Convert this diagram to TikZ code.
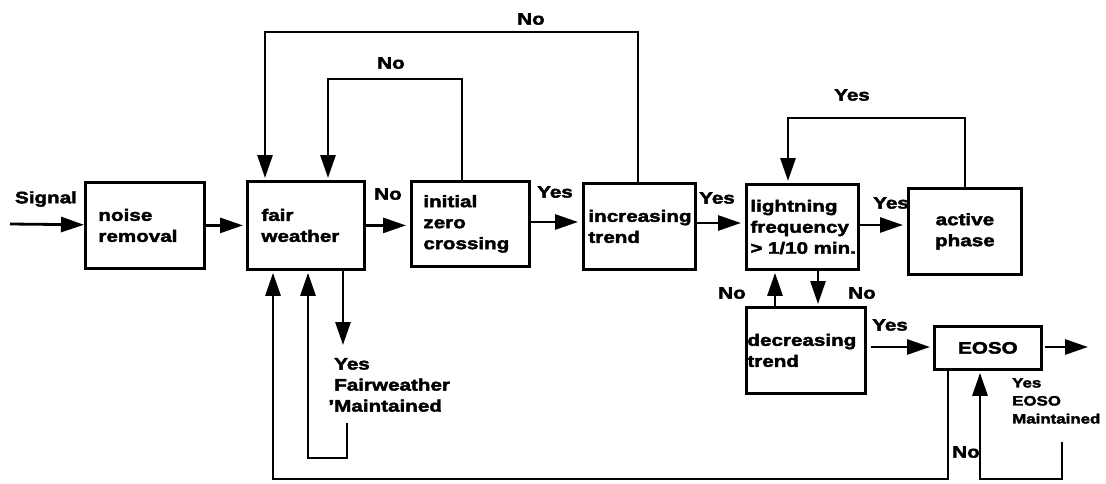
\documentclass[tikz,border=0pt]{standalone}
\usepackage{fontspec}
\setmainfont[FakeStretch=1.25,BoldFeatures={FakeBold=2.5}]{Liberation Sans}
\usetikzlibrary{arrows.meta}
\tikzset{
  every node/.style={font=\bfseries\fontsize{16.5}{21}\selectfont},
  blk/.style={draw, line width=2.8pt, anchor=north west, align=left, inner ysep=0pt},
  conn/.style={line width=2.8pt},
  arr/.style={conn, -{Triangle[length=23pt,width=15pt]}},
  lab/.style={inner sep=0pt},
  small/.style={font=\bfseries\fontsize{13.5}{18}\selectfont}
}
\begin{document}
\begin{tikzpicture}[x=1pt,y=-1pt]
\useasboundingbox (0,0) rectangle (1106,483);
% boxes
\node[blk, minimum width=119, minimum height=86, inner xsep=13, text width=93] (noise) at (84,181) {noise\\removal};
\node[blk, minimum width=117, minimum height=88, inner xsep=14, text width=89] (fair) at (246,180) {fair\\weather};
\node[blk, minimum width=118, minimum height=85, inner xsep=12, text width=94] (init) at (410,180) {initial\\zero\\crossing};
\node[blk, minimum width=112, minimum height=86, inner xsep=5, text width=102] (incr) at (582,182) {increasing\\trend};
\node[blk, minimum width=112, minimum height=85, inner xsep=4, text width=104] (light) at (745,183) {lightning\\frequency\\>~1/10~min.};
\node[blk, minimum width=113, minimum height=86, align=center, inner xsep=5, text width=103] (active) at (907,187) {active\\phase};
\node[blk, minimum width=119, minimum height=86, inner xsep=1, text width=117] (decr) at (745,306) {decreasing\\trend\\[6pt]};
\node[blk, minimum width=107, minimum height=43, align=center, inner xsep=5, text width=97] (eoso) at (933,325) {EOSO};
% coordinates
\coordinate (sigin) at (10,224);
\coordinate (t1) at (638,32);
\coordinate (t2) at (265,32);
\coordinate (u1) at (462,79);
\coordinate (u2) at (328,79);
\coordinate (a1) at (965,118);
\coordinate (a2) at (788,118);
\coordinate (dup) at (775,0);
\coordinate (ddn) at (818,0);
\coordinate (out) at (1088,347);
\coordinate (fdown) at (343,345);
\coordinate (s1) at (347,423);
\coordinate (s2) at (347,458);
\coordinate (s3) at (308,458);
\coordinate (b1) at (948,479);
\coordinate (b2) at (273,479);
\coordinate (e1) at (1062,442);
\coordinate (e2) at (1062,479);
\coordinate (e3) at (980,479);
% main flow
\draw[arr] (sigin) -- (noise);
\draw[arr, shorten >=3pt] (noise) -- (fair);
\draw[arr, shorten >=4pt] (fair.east) -- (fair.east -| init.west);
\draw[arr, shorten >=4pt] (init.east |- 0,222) -- (incr.west |- 0,222);
\draw[arr, shorten >=4pt] (incr.east |- 0,223) -- (light.west |- 0,223);
\draw[arr, shorten >=4pt] (light.east |- 0,225) -- (active.west |- 0,225);
% loops on top
\draw[arr, shorten >=2pt] (incr.north -| t1) -- (t1) -- (t2) -- (fair.north -| t2);
\draw[arr, shorten >=2pt] (init.north -| u1) -- (u1) -- (u2) -- (fair.north -| u2);
\draw[arr, shorten >=2pt] (active.north -| a1) -- (a1) -- (a2) -- (light.north -| a2);
% lightning <-> decreasing
\draw[arr, shorten >=2pt] (decr.north -| dup) -- (light.south -| dup);
\draw[arr, shorten >=2pt] (light.south -| ddn) -- (decr.north -| ddn);
\draw[arr, shorten <=4pt, shorten >=3pt] (decr.east |- 0,347) -- (eoso.west |- 0,347);
\draw[arr, shorten <=2pt] (eoso.east |- out) -- (out);
% fair weather bottom
\draw[arr] (fair.south -| fdown) -- (fdown);
\draw[arr, shorten >=2pt] (s1) -- (s2) -- (s3) -- (fair.south -| s3);
\draw[arr, shorten >=2pt] (eoso.south -| b1) -- (b1) -- (b2) -- (fair.south -| b2);
\draw[arr, shorten >=2pt] (e1) -- (e2) -- (e3) -- (eoso.south -| e3);
% labels
\node[lab] (lsig) at (46,199) {Signal};
\node[lab] (lno1) at (388,194) {No};
\node[lab] (lyes1) at (555,192) {Yes};
\node[lab] (lyes2) at (717,198) {Yes};
\node[lab] (lyes3) at (891,203) {Yes};
\node[lab] (lno2) at (531,19) {No};
\node[lab] (lno3) at (391,63) {No};
\node[lab] (lyes4) at (852,95) {Yes};
\node[lab] (lno4) at (732,293) {No};
\node[lab] (lno5) at (862,293) {No};
\node[lab] (lyes5) at (890,325) {Yes};
\node[lab] (lno6) at (966,452) {No};
\node[lab, align=left, anchor=north west] (lfair) at (334,358) {Yes\\Fairweather\\\llap{'}Maintained};
\node[lab, small, align=left, anchor=north west] (leoso) at (1012,378) {Yes\\EOSO\\Maintained};
\end{tikzpicture}
\end{document}
